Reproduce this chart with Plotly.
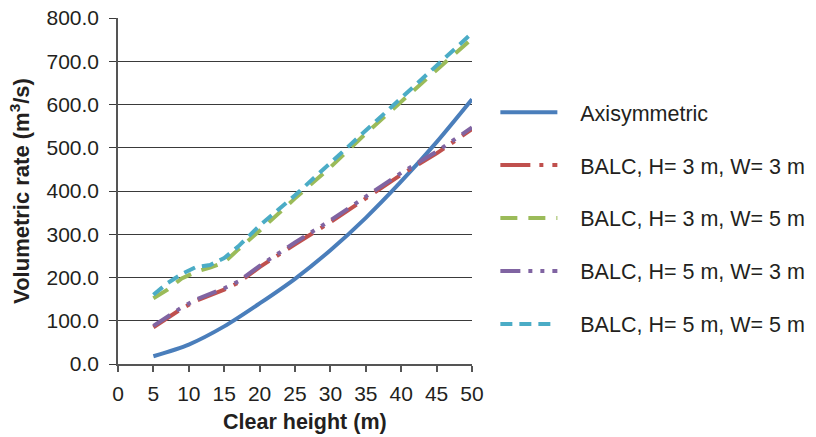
import plotly.graph_objects as go

# ---- data ----
heights_axi = [5, 10, 15, 20, 25, 30, 35, 40, 45, 50]
axisymmetric = [18, 45, 87, 140, 197, 263, 338, 422, 513, 612]

heights_balc = [5, 7, 9, 11, 13, 15, 17, 20, 25, 30, 35, 40, 45, 50]
balc_h3_w3 = [85, 107, 128, 146, 159, 172, 188, 224, 277, 328, 383, 438, 487, 543]
balc_h3_w5 = [152, 172, 198, 213, 223, 235, 265, 308, 383, 455, 533, 608, 680, 752]
balc_h5_w3 = [88, 110, 131, 149, 162, 175, 191, 227, 281, 332, 387, 442, 491, 547]
balc_h5_w5 = [160, 187, 208, 224, 229, 245, 272, 320, 390, 465, 542, 618, 690, 765]

names = ["Axisymmetric", "BALC, H= 3 m, W= 3 m", "BALC, H= 3 m, W= 5 m",
         "BALC, H= 5 m, W= 3 m", "BALC, H= 5 m, W= 5 m"]
colors = ["#4A7EBB", "#C0504D", "#9BBB59", "#8064A2", "#4BACC6"]
dashes = ["solid", "30px,9px,4px,9px", "17px,11px", "20px,8px,4px,8px,4px,8px", "12px,7px"]

x_ticks = list(range(0, 51, 5))
y_ticks = list(range(0, 801, 100))

FONT = "Liberation Sans, Arial, sans-serif"
TXT = "#231F20"
PAD = "\u00a0\u00a0\u00a0"  # visual gap between legend sample and label

fig = go.Figure()
series = [(heights_axi, axisymmetric, "spline"),
          (heights_balc, balc_h3_w3, "linear"),
          (heights_balc, balc_h3_w5, "linear"),
          (heights_balc, balc_h5_w3, "linear"),
          (heights_balc, balc_h5_w5, "linear")]
for i, (xs, ys, shape) in enumerate(series):
    fig.add_trace(go.Scatter(
        x=xs, y=ys, mode="lines", name=PAD + names[i], legendgroup=str(i),
        line=dict(color=colors[i], width=4, dash=dashes[i], shape=shape, smoothing=0.8),
    ))

fig.update_layout(
    width=816, height=437,
    margin=dict(l=118, r=343.5, t=18, b=73, autoexpand=False),
    paper_bgcolor="white", plot_bgcolor="white",
    font=dict(family=FONT, size=21, color=TXT),
    showlegend=True,
    legend=dict(x=1.066, y=0.787, xanchor="left", yanchor="top",
                font=dict(family=FONT, size=21.5, color=TXT),
                itemwidth=57, tracegroupgap=22, bgcolor="rgba(0,0,0,0)"),
    xaxis=dict(range=[0, 50], tickvals=x_ticks, ticktext=[str(v) for v in x_ticks],
               showgrid=False, zeroline=False, showline=True, linecolor="#555555", linewidth=1.5,
               ticks="outside", ticklen=6, tickcolor="#555555", tickwidth=1.5,
               ticklabelstandoff=4,
               tickfont=dict(size=21), fixedrange=True),
    yaxis=dict(range=[0, 800], tickvals=y_ticks, tickformat=".1f",
               showgrid=True, gridcolor="#3a3a3a", gridwidth=1.2, zeroline=False,
               showline=True, linecolor="#555555", linewidth=1.5,
               ticks="outside", ticklen=7, tickcolor="#3a3a3a", tickwidth=1.2,
               ticklabelstandoff=6,
               tickfont=dict(size=21),
               title=dict(text="<b>Volumetric rate (m<sup>3</sup>/s)</b>", font=dict(size=22), standoff=11)),
    annotations=[dict(text="<b>Clear height (m)</b>", xref="paper", yref="paper",
                      x=0.5275, y=-0.168, xanchor="center", yanchor="middle",
                      showarrow=False, font=dict(size=21.5, color=TXT))],
)

fig.write_html("out.html")
